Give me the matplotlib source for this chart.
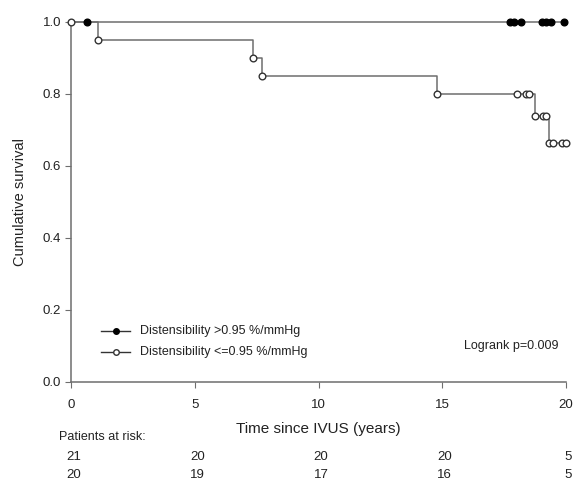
import matplotlib
matplotlib.use('Agg')
import matplotlib.pyplot as plt
import numpy as np

plt.rcParams['font.family'] = ['Liberation Sans', 'DejaVu Sans']

# Distensibility > 0.95 %/mmHg : no events, censored times
hi_censor = [0.65, 17.74, 17.9, 18.2, 19.03, 19.2, 19.4, 19.9]

# Distensibility <= 0.95 %/mmHg : step curve
lo_step_t = [0, 1.09, 7.35, 7.7, 14.8, 18.75, 19.3, 20.0]
lo_step_s = [1.0, 0.95, 0.90, 0.85, 0.80, 0.738, 0.664, 0.664]
lo_mark_t = [0, 1.09, 7.35, 7.7, 14.8, 18.0, 18.4, 18.5, 18.75, 19.07, 19.2, 19.3, 19.47, 19.84, 20.0]
lo_mark_s = [1.0, 0.95, 0.90, 0.85, 0.80, 0.80, 0.80, 0.80, 0.738, 0.738, 0.738, 0.664, 0.664, 0.664, 0.664]

risk_times = [0, 5, 10, 15, 20]
risk_hi = [21, 20, 20, 20, 5]
risk_lo = [20, 19, 17, 16, 5]

line_c = '#6e6e6e'
txt_c = '#222222'

fig = plt.figure(figsize=(5.75, 4.8), dpi=100)
ax = fig.add_axes([71/575, 1 - 382/480, 495/575, 360/480])

# high distensibility group
ax.plot([0, 20], [1.0, 1.0], color=line_c, lw=1.1, zorder=2, clip_on=False)
ax.plot(hi_censor, np.ones(len(hi_censor)), 'o', ms=4.8, mfc='black', mec='black',
        ls='none', zorder=3, clip_on=False)

# low distensibility group
ax.step(lo_step_t, lo_step_s, where='post', color=line_c, lw=1.1, zorder=2, clip_on=False)
ax.plot(lo_mark_t, lo_mark_s, 'o', ms=4.8, mfc='white', mec='#333333', mew=1.0,
        ls='none', zorder=4, clip_on=False)

ax.set_xlim(0, 20)
ax.set_ylim(0, 1.0)
ax.set_xticks(risk_times)
ax.set_yticks(np.arange(0, 1.01, 0.2))
ax.set_yticklabels(['%.1f' % v for v in np.arange(0, 1.01, 0.2)])
for s in ['top', 'right']:
    ax.spines[s].set_visible(False)
for s in ['left', 'bottom']:
    ax.spines[s].set_color(line_c)
    ax.spines[s].set_linewidth(1.1)
ax.tick_params(direction='out', length=4, color=line_c, labelsize=9.5, labelcolor=txt_c)
ax.tick_params(axis='x', pad=8)
ax.tick_params(axis='y', pad=3)
ax.set_ylabel('Cumulative survival', fontsize=10.5, color=txt_c, labelpad=11)

tr = ax.get_xaxis_transform()
ax.text(10, -0.13, 'Time since IVUS (years)', transform=tr, ha='center', va='center',
        fontsize=11, color=txt_c)
ax.text(-0.5, -0.153, 'Patients at risk:', transform=tr, ha='left', va='center',
        fontsize=9, color=txt_c)
for t, a, b in zip(risk_times, risk_hi, risk_lo):
    ax.text(t + 0.1, -0.208, str(a), transform=tr, ha='center', va='center', fontsize=9.5, color=txt_c)
    ax.text(t + 0.1, -0.258, str(b), transform=tr, ha='center', va='center', fontsize=9.5, color=txt_c)

# legend
ax.plot([1.2, 2.4], [0.142, 0.142], color='#333333', lw=1.0)
ax.plot([1.8], [0.142], 'o', ms=4, mfc='black', mec='black')
ax.plot([1.2, 2.4], [0.083, 0.083], color='#333333', lw=1.0)
ax.plot([1.8], [0.083], 'o', ms=4, mfc='white', mec='#333333')
ax.text(2.8, 0.142, 'Distensibility >0.95 %/mmHg', fontsize=9, va='center', color=txt_c)
ax.text(2.8, 0.083, 'Distensibility <=0.95 %/mmHg', fontsize=9, va='center', color=txt_c)
ax.text(19.7, 0.101, 'Logrank p=0.009', fontsize=9, ha='right', va='center', color=txt_c)

fig.savefig('out.png', dpi=100)
